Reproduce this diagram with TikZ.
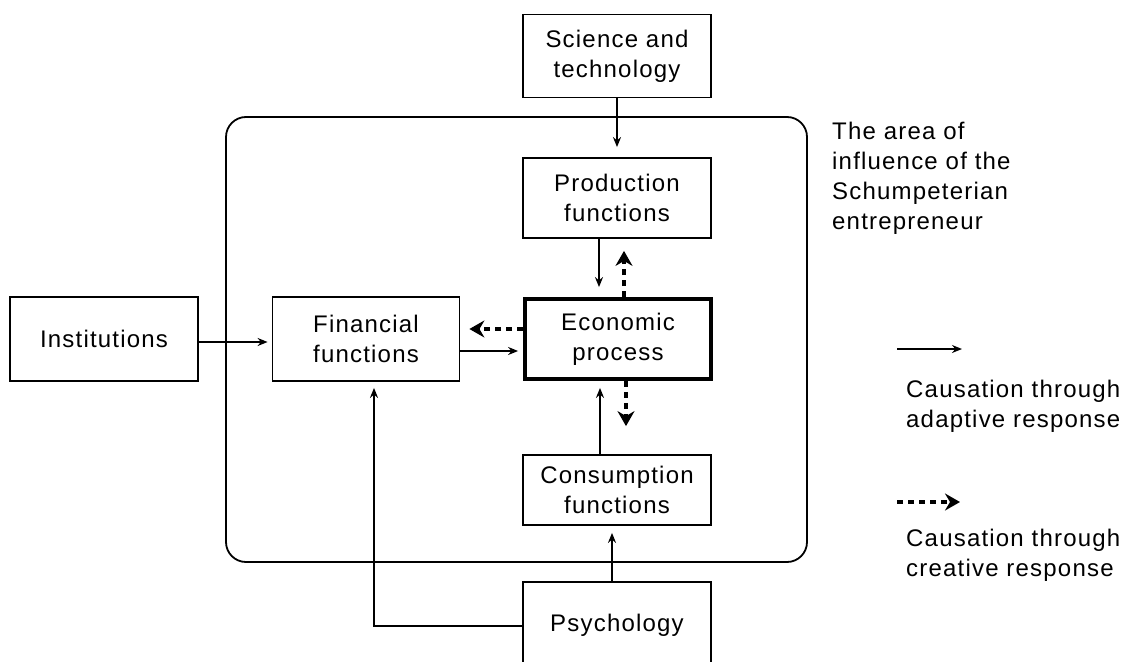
\documentclass[tikz,border=0pt]{standalone}
\usepackage{fontspec}
\setmainfont{Liberation Sans}[LetterSpace=5]
\usetikzlibrary{arrows.meta,calc}
\begin{document}
\begin{tikzpicture}[x=1pt,y=-1pt,
  every node/.style={font=\fontsize{24}{30}\selectfont},
  box/.style={draw,line width=1.8pt,minimum width=188pt,inner sep=0pt,align=center},
  arr/.style={line width=1.8pt,-{Stealth[length=10pt,width=8pt]}},
  darr/.style={line width=3.5pt,dash pattern=on 6pt off 5pt,-{Stealth[length=15pt,width=17pt,inset=5pt]}},
  lbl/.style={align=left,anchor=north west,inner sep=0pt}]
\useasboundingbox (0,0) rectangle (1129,661);
\draw[line width=1.8pt,rounded corners=20pt] (226,117) rectangle (807,562);
\node[box,minimum height=83pt] (sci) at (617,56) {Science and\\technology};
\node[box,minimum height=80pt] (prod) at (617,198) {Production\\functions};
\node[box,minimum height=80pt,minimum width=186pt,line width=3.8pt] (econ) at (618,339) {Economic\\process};
\node[box,minimum height=84pt,minimum width=187pt] (fin) at (366,339) {Financial\\functions};
\node[box,minimum height=84pt] (inst) at (104,339) {Institutions};
\node[box,minimum height=70pt] (cons) at (617,490) {Consumption\\functions};
\node[box,minimum height=86pt] (psy) at (617,625) {Psychology};
\node[lbl] (area) at (832,122) {The area of\\influence of the\\Schumpeterian\\entrepreneur};
\coordinate (la1) at (897,349);
\coordinate (la2) at (962,349);
\coordinate (lb1) at (897,502);
\coordinate (lb2) at (960,502);
\draw[arr] (la1) -- (la2);
\draw[darr] (lb1) -- (lb2);
\node[lbl] (t1) at (906,380) {Causation through\\adaptive response};
\node[lbl] (t2) at (906,529) {Causation through\\creative response};
% connectors
\draw[arr,shorten >=10pt] (sci.south) -- (prod.north);
\draw[arr,shorten >=10pt] ($(prod.south)+(-18,0)$) -- ($(econ.north)+(-19,0)$);
\draw[darr,shorten >=12pt] ($(econ.north)+(6,0)$) -- ($(prod.south)+(7,0)$);
\draw[darr,shorten >=9pt] ($(econ.west)+(0,-10)$) -- ($(fin.east)+(0,-10)$);
\draw[arr,shorten >=5pt] ($(fin.east)+(0,12)$) -- ($(econ.west)+(0,12)$);
\draw[arr,shorten >=4pt] ($(inst.east)+(0,3)$) -- ($(fin.west)+(0,3)$);
\draw[arr,shorten >=7pt] ($(cons.north)+(-17,0)$) -- ($(econ.south)+(-18,0)$);
\draw[darr,shorten >=28pt] ($(econ.south)+(8,0)$) -- ($(cons.north)+(9,0)$);
\draw[arr,shorten >=7pt] ($(psy.north)+(-5,0)$) -- ($(cons.south)+(-5,0)$);
\draw[arr,shorten >=6pt] (psy.west |- 0,626) -| (fin.south -| 374,0);
\end{tikzpicture}
\end{document}
